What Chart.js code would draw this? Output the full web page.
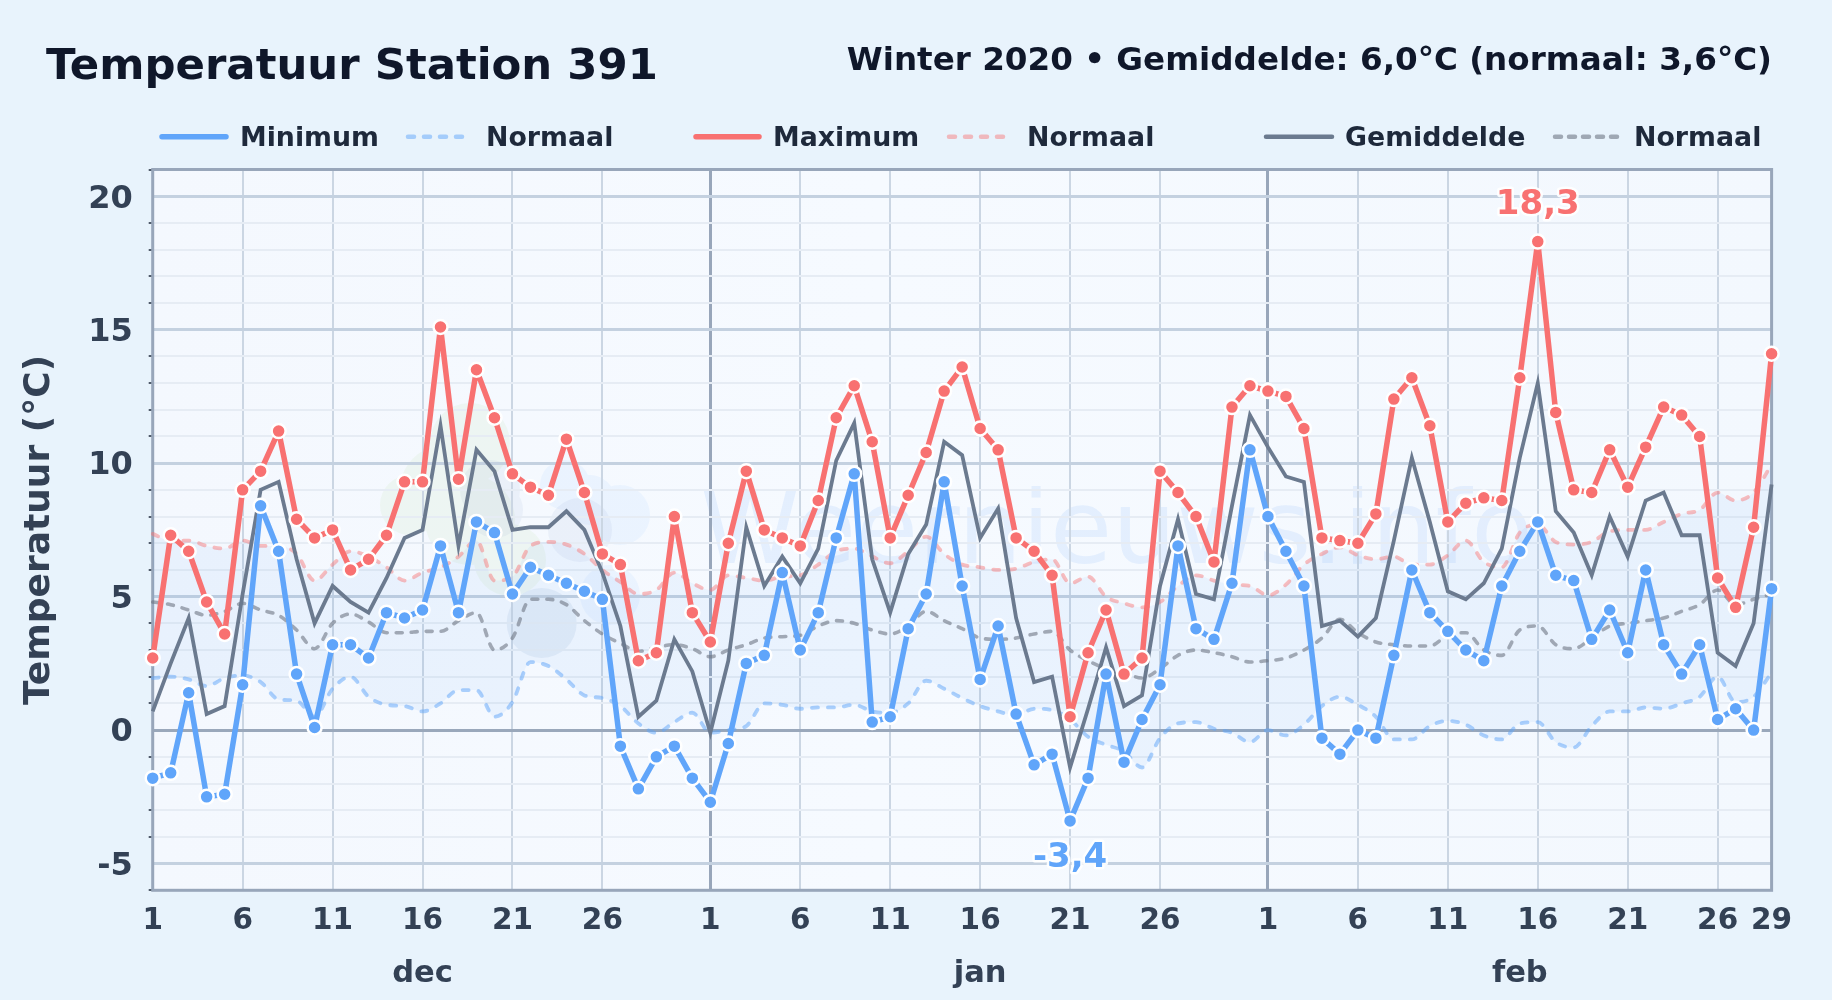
<!DOCTYPE html>
<html><head><meta charset="utf-8">
<style>html,body{margin:0;padding:0;background:#e8f3fc;overflow:hidden}canvas{display:block}</style>
<script src="https://cdn.jsdelivr.net/npm/chart.js@4/dist/chart.umd.min.js"></script>
</head><body><canvas id="c" width="1832" height="1000"></canvas>
<script>
const titleText = 'Temperatuur Station 391';
const subtitleText = 'Winter 2020 • Gemiddelde: 6,0°C (normaal: 3,6°C)';
const yAxisTitle = 'Temperatuur (°C)';
const watermarkText = 'Weernieuws.info';
const months = ['dec', 'jan', 'feb'];
const monthDays = [31, 31, 29];
const tMin = [-1.8,-1.6,1.4,-2.5,-2.4,1.7,8.4,6.7,2.1,0.1,3.2,3.2,2.7,4.4,4.2,4.5,6.9,4.4,7.8,7.4,5.1,6.1,5.8,5.5,5.2,4.9,-0.6,-2.2,-1.0,-0.6,-1.8,
 -2.7,-0.5,2.5,2.8,5.9,3.0,4.4,7.2,9.6,0.3,0.5,3.8,5.1,9.3,5.4,1.9,3.9,0.6,-1.3,-0.9,-3.4,-1.8,2.1,-1.2,0.4,1.7,6.9,3.8,3.4,5.5,10.5,
 8.0,6.7,5.4,-0.3,-0.9,0.0,-0.3,2.8,6.0,4.4,3.7,3.0,2.6,5.4,6.7,7.8,5.8,5.6,3.4,4.5,2.9,6.0,3.2,2.1,3.2,0.4,0.8,0.0,5.3];
const tMax = [2.7,7.3,6.7,4.8,3.6,9.0,9.7,11.2,7.9,7.2,7.5,6.0,6.4,7.3,9.3,9.3,15.1,9.4,13.5,11.7,9.6,9.1,8.8,10.9,8.9,6.6,6.2,2.6,2.9,8.0,4.4,
 3.3,7.0,9.7,7.5,7.2,6.9,8.6,11.7,12.9,10.8,7.2,8.8,10.4,12.7,13.6,11.3,10.5,7.2,6.7,5.8,0.5,2.9,4.5,2.1,2.7,9.7,8.9,8.0,6.3,12.1,12.9,
 12.7,12.5,11.3,7.2,7.1,7.0,8.1,12.4,13.2,11.4,7.8,8.5,8.7,8.6,13.2,18.3,11.9,9.0,8.9,10.5,9.1,10.6,12.1,11.8,11.0,5.7,4.6,7.6,14.1];
const tAvg = [0.7,2.5,4.2,0.6,0.9,5.1,9.0,9.3,6.4,4.0,5.4,4.8,4.4,5.7,7.2,7.5,11.4,6.9,10.5,9.7,7.5,7.6,7.6,8.2,7.5,5.9,3.9,0.5,1.1,3.4,2.2,
 -0.1,2.6,7.6,5.4,6.5,5.5,6.8,10.1,11.5,6.4,4.4,6.6,7.7,10.8,10.3,7.2,8.3,4.2,1.8,2.0,-1.4,0.8,3.1,0.9,1.3,5.4,7.9,5.1,4.9,8.4,11.8,
 10.6,9.5,9.3,3.9,4.1,3.5,4.2,7.1,10.2,7.8,5.2,4.9,5.5,6.8,10.2,13.0,8.2,7.4,5.8,8.0,6.5,8.6,8.9,7.3,7.3,2.9,2.4,4.0,9.2];
const normMax = [7.35,7.1,7.1,6.9,6.8,7.1,6.9,6.9,6.6,5.6,6.2,6.7,6.5,6.1,5.6,5.9,6.1,6.5,7.1,5.6,5.75,6.9,7.05,6.95,6.6,6.0,5.55,5.1,5.25,5.9,5.5,
 5.25,5.8,5.7,5.6,5.75,5.8,6.2,6.7,6.8,6.5,6.25,6.7,7.25,6.6,6.2,6.1,6.0,6.05,6.3,6.4,5.5,5.75,5.0,4.75,4.6,4.8,5.4,5.8,5.6,5.45,5.4,
 5.05,5.45,6.2,6.6,6.85,6.55,6.4,6.5,6.2,6.2,6.55,7.1,6.3,6.1,7.4,7.7,7.05,6.95,7.05,7.45,7.5,7.5,7.8,8.1,8.25,8.9,8.6,8.9,9.95];
const normAvg = [4.8,4.7,4.5,4.3,4.45,4.75,4.5,4.3,3.75,3.05,4.0,4.35,4.05,3.65,3.65,3.7,3.7,4.1,4.4,3.0,3.45,4.9,4.9,4.7,4.1,3.6,3.25,2.95,3.1,3.2,3.05,
 2.75,3.0,3.2,3.45,3.5,3.55,3.9,4.1,4.0,3.75,3.6,3.9,4.45,4.1,3.8,3.45,3.4,3.45,3.6,3.7,3.0,2.6,2.3,2.15,1.95,2.3,2.8,3.0,2.9,2.75,2.55,
 2.6,2.7,3.0,3.45,4.15,3.65,3.3,3.2,3.15,3.15,3.55,3.65,3.0,2.8,3.75,3.9,3.2,3.05,3.45,3.9,4.0,4.1,4.2,4.45,4.7,5.25,4.7,4.9,5.1];
const normMin = [1.95,2.0,1.9,1.65,1.95,2.05,1.8,1.15,1.1,0.5,1.55,2.0,1.25,0.95,0.9,0.7,1.0,1.5,1.5,0.5,1.05,2.55,2.4,1.9,1.3,1.2,0.9,0.25,-0.1,0.3,0.65,
 -0.1,0.0,0.15,1.0,0.95,0.8,0.85,0.85,0.95,0.7,0.65,1.0,1.85,1.55,1.2,0.9,0.7,0.55,0.8,0.75,0.4,-0.25,-0.55,-0.8,-1.4,-0.3,0.25,0.3,0.05,-0.1,-0.45,
 0.0,-0.2,0.2,0.9,1.25,0.95,0.5,-0.35,-0.35,0.15,0.35,0.2,-0.2,-0.35,0.25,0.3,-0.45,-0.65,0.15,0.7,0.7,0.85,0.8,1.0,1.25,2.0,1.05,1.25,2.15];

const FONT = '"DejaVu Sans", sans-serif';
const dayNums = [], dayKeys = [];
months.forEach((m, k) => { for (let d = 1; d <= monthDays[k]; d++) { dayNums.push(d); dayKeys.push(d + ' ' + m); } });
const lastIndex = dayNums.length - 1;
const isMarked = d => (d - 1) % 5 === 0 && d < 31;
const C = { blue:'#60a5fa', red:'#f87171', gray:'#6b7a8f', nBlue:'rgba(96,165,250,.5)', nRed:'rgba(248,113,113,.45)', nGray:'rgba(107,114,128,.58)' };

const legendLayout = [
 {label:'Minimum',  color:C.blue, w:5.5, dash:null,  x0:162, x1:226, tx:240},
 {label:'Normaal',  color:C.nBlue,w:4.5, dash:[6,10],x0:408, x1:464, tx:486},
 {label:'Maximum',  color:C.red,  w:5.5, dash:null,  x0:696, x1:759, tx:773},
 {label:'Normaal',  color:C.nRed, w:4.5, dash:[6,10],x0:949, x1:1004,tx:1027},
 {label:'Gemiddelde',color:C.gray,w:4.5, dash:null,  x0:1266,x1:1332,tx:1345},
 {label:'Normaal',  color:C.nGray,w:4.5, dash:[6,8], x0:1555,x1:1618,tx:1634}
];
const logoShapes = [
 {col:'rgba(190,225,170,.14)',arcs:[[470,443,40],[445,490,45],[410,505,30],[470,520,45],[510,560,36]]},
 {col:'rgba(96,165,250,.07)',arcs:[[565,485,25],[590,500,25],[620,515,30],[610,595,30]]},
 {col:'rgba(70,110,170,.06)',arcs:[[490,490,30],[495,510,28],[580,530,32]]},
 {col:'rgba(50,100,170,.08)',arcs:[[541.7,623,35]]}
];

const decorate = {
 id:'decorate',
 beforeDraw(chart){
  const {ctx, chartArea:a} = chart;
  // optical centring of the value labels on their grid lines
  chart.scales.y.getLabelItems(a).forEach(it=>{ if(!it._moved){ it._moved=true; it.options.translation[1]+=3; } });
  ctx.save();
  ctx.fillStyle = '#e8f3fc';
  ctx.fillRect(0,0,chart.width,chart.height);
  const g = ctx.createLinearGradient(a.left,0,a.right,0);
  g.addColorStop(0,'#f4f8fe'); g.addColorStop(.45,'#f6faff'); g.addColorStop(1,'#f3f8fe');
  ctx.fillStyle = g;
  ctx.fillRect(a.left,a.top,a.width,a.height);
  logoShapes.forEach(s=>{
   ctx.fillStyle=s.col; ctx.beginPath();
   s.arcs.forEach(p=>{ctx.moveTo(p[0]+p[2],p[1]);ctx.arc(p[0],p[1],p[2],0,Math.PI*2);});
   ctx.fill();
  });
  ctx.font = '101px '+FONT;
  ctx.fillStyle = 'rgba(59,130,246,.09)';
  ctx.textAlign='left'; ctx.textBaseline='alphabetic';
  ctx.fillText(watermarkText,700,563);
  ctx.fillStyle='#0f172a';
  ctx.font='bold 43.4px '+FONT;
  ctx.fillText(titleText,46,79);
  ctx.font='bold 32.6px '+FONT;
  ctx.textAlign='right';
  ctx.fillText(subtitleText,1772,69.5);
  ctx.textAlign='left';
  ctx.font='bold 26.8px '+FONT;
  legendLayout.forEach(l=>{
   ctx.save();
   ctx.strokeStyle=l.color; ctx.lineWidth=l.w; ctx.lineCap='round';
   if(l.dash) ctx.setLineDash(l.dash);
   ctx.beginPath(); ctx.moveTo(l.x0,136.7); ctx.lineTo(l.x1,136.7); ctx.stroke();
   ctx.restore();
   ctx.fillStyle='#1e293b';
   ctx.fillText(l.label,l.tx,145.7);
  });
  ctx.restore();
 },
 beforeDatasetsDraw(chart){
  const {ctx, chartArea:a} = chart;
  ctx.save();
  ctx.strokeStyle='#98a6ba'; ctx.lineWidth=3;
  ctx.strokeRect(a.left,a.top,a.width,a.height);
  ctx.restore();
 },
 afterDraw(chart){
  const {ctx, scales:{x,y}} = chart;
  ctx.save();
  ctx.font='bold 30.5px '+FONT; ctx.fillStyle='#334155'; ctx.textAlign='center'; ctx.textBaseline='alphabetic';
  let start=0;
  months.forEach((m,k)=>{
   const mid=start+Math.floor(monthDays[k]/2);
   ctx.fillText(m,x.getPixelForValue(mid),981.7);
   start+=monthDays[k];
  });
  const hi=Math.max(...tMax), lo=Math.min(...tMin);
  const marks=[{v:hi,i:tMax.indexOf(hi),c:C.red,dy:-36.5},{v:lo,i:tMin.indexOf(lo),c:C.blue,dy:37}];
  ctx.font='bold 34px '+FONT; ctx.textBaseline='middle'; ctx.lineJoin='round';
  marks.forEach(m=>{
   const s=m.v.toFixed(1).replace('.',',');
   const px=x.getPixelForValue(m.i), py=y.getPixelForValue(m.v)+m.dy;
   ctx.strokeStyle='rgba(255,255,255,.9)'; ctx.lineWidth=5; ctx.strokeText(s,px,py);
   ctx.fillStyle=m.c; ctx.fillText(s,px,py);
  });
  ctx.restore();
 }
};

const marker = {pointRadius:7, pointBorderWidth:2.5, pointBorderColor:'#fff', pointHoverRadius:7, borderJoinStyle:'round'};
const smooth = {borderCapStyle:'round',pointRadius:0,tension:.4,cubicInterpolationMode:'monotone'};
new Chart(document.getElementById('c'),{
 type:'line',
 data:{labels:dayKeys,datasets:[
  {label:'Minimum',data:tMin,borderColor:C.blue,backgroundColor:C.blue,pointBackgroundColor:C.blue,borderWidth:5.5,tension:0,clip:false,...marker},
  {label:'Maximum',data:tMax,borderColor:C.red,backgroundColor:C.red,pointBackgroundColor:C.red,borderWidth:5.5,tension:0,clip:false,...marker},
  {label:'Gemiddelde',data:tAvg,borderColor:C.gray,borderWidth:3.8,pointRadius:0,tension:0,clip:false},
  {label:'Normaal',data:normAvg,borderColor:C.nGray,borderWidth:3.6,borderDash:[6,9],...smooth},
  {label:'Normaal',data:normMax,borderColor:C.nRed,borderWidth:3.8,borderDash:[6,10],...smooth,fill:{target:'+1'},backgroundColor:'rgba(59,130,246,.06)'},
  {label:'Normaal',data:normMin,borderColor:C.nBlue,borderWidth:3.8,borderDash:[6,10],...smooth}
 ]},
 plugins:[decorate],
 options:{
  responsive:false,animation:false,
  events:[],
  layout:{padding:{top:169.5,right:60.4,left:0,bottom:0}},
  plugins:{legend:{display:false},title:{display:false},tooltip:{enabled:false}},
  scales:{
   x:{type:'category',offset:false,
    afterFit(s){s.height=109.7;},
    border:{display:false},
    grid:{drawTicks:false,
     color(c){const i=c.index;if(i===undefined)return 'transparent';const d=dayNums[i];
      if(d===1&&i>0)return '#98a6ba';
      return isMarked(d)?'#cbd6e3':'transparent';},
     lineWidth(c){return dayNums[c.index]===1&&c.index>0?3:2;}},
    ticks:{autoSkip:false,maxRotation:0,minRotation:0,padding:13,color:'#334155',font:{family:FONT,weight:'bold',size:29.5},
     callback(v,i){const d=dayNums[i];return (isMarked(d)||i===lastIndex)?String(d):'';}}
   },
   y:{min:-6,max:21,
    afterFit(s){s.width=152.7;},
    border:{display:false},
    grid:{tickLength:4,
     color(c){const v=c.tick.value;if(v===0)return '#9aa8bb';return v%5===0?'#c4d1e0':'#e6ecf4';},
     lineWidth(c){return c.tick.value%5===0?3:2;},
     tickColor(c){return c.tick.value%5===0?'transparent':'#1e293b';},tickWidth:1.5},
    title:{display:true,text:yAxisTitle,color:'#334155',font:{family:FONT,weight:'bold',size:36},padding:{top:18,bottom:0}},
    ticks:{autoSkip:false,stepSize:1,padding:16,color:'#334155',font:{family:FONT,weight:'bold',size:32},
     callback(v){return v%5===0?String(v):'';}}
   }
  }
 }
});
</script></body></html>
